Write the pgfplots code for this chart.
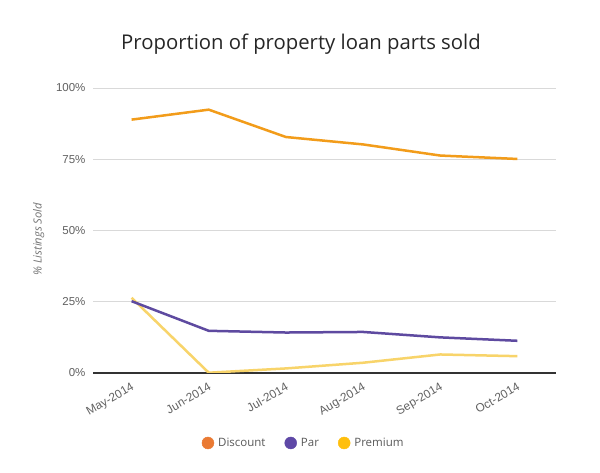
\documentclass[border=0pt]{standalone}
\usepackage{pgfplots}
\pgfplotsset{compat=1.18}
\usepackage{fontspec}
\setmainfont{Liberation Sans}
\newfontfamily\seg{Open Sans}
\definecolor{discline}{HTML}{F29C1A}
\definecolor{parline}{HTML}{5E4AA0}
\definecolor{premline}{HTML}{F8D46A}
\definecolor{discleg}{HTML}{EA7A33}
\definecolor{parleg}{HTML}{5E48A6}
\definecolor{premleg}{HTML}{FFBF0D}
\begin{document}
\begin{tikzpicture}[x=1pt,y=1pt]
\fill[white] (0,0) rectangle (600,473);
\path[use as bounding box] (0,0) rectangle (600,473);
\node[font=\seg\fontsize{20.3}{24}\selectfont, text=black!85] at (301,429) {Proportion of property loan parts sold};
\begin{axis}[
  at={(93pt,100pt)}, anchor=south west, scale only axis,
  width=463pt, height=285pt,
  xmin=-0.5, xmax=5.5, ymin=0, ymax=100,
  axis lines=left, separate axis lines,
  y axis line style={draw=none},
  x axis line style={-, draw=black!80, line width=1.2pt},
  major tick length=0pt,
  ymajorgrids, grid style={black!15, line width=0.8pt},
  ytick={0,25,50,75,100},
  yticklabels={0\%,25\%,50\%,75\%,100\%},
  yticklabel style={font=\fontsize{11.5}{13}\selectfont, text=black!62, xshift=-4pt},
  xtick={0,1,2,3,4,5},
  xticklabels={May-2014,Jun-2014,Jul-2014,Aug-2014,Sep-2014,Oct-2014},
  xticklabel style={rotate=30, anchor=north east, font=\fontsize{11.8}{13}\selectfont, text=black!62, yshift=-4pt, xshift=-2pt},
  ylabel={\% Listings Sold},
  ylabel style={at={(rel axis cs:-0.117,0.47)}, anchor=center, font=\seg\itshape\fontsize{11.2}{12}\selectfont, text=black!55},
  legend style={at={(0.455,-0.2456)}, anchor=center, draw=none, fill=none, legend columns=3,
    font=\seg\fontsize{11.5}{13}\selectfont, text=black!65,
    /tikz/every odd column/.append style={column sep=2pt},
    /tikz/every even column/.append style={column sep=17pt}},
  legend image code/.code={\fill (3pt,0pt) circle (6pt);},
  line join=round,
]
\addlegendimage{discleg}
\addlegendentry{Discount}
\addlegendimage{parleg}
\addlegendentry{Par}
\addlegendimage{premleg}
\addlegendentry{Premium}
\addplot[forget plot, draw=premline, line width=2.5pt, mark=none] coordinates {
  (0,26.4) (1,0.1) (2,1.6) (3,3.6) (4,6.5) (5,5.9)};
\addplot[forget plot, draw=parline, line width=2.5pt, mark=none] coordinates {
  (0,25.2) (1,14.8) (2,14.2) (3,14.4) (4,12.5) (5,11.3)};
\addplot[forget plot, draw=discline, line width=2.5pt, mark=none] coordinates {
  (0,88.9) (1,92.4) (2,82.8) (3,80.2) (4,76.3) (5,75.1)};
\end{axis}
\end{tikzpicture}
\end{document}
